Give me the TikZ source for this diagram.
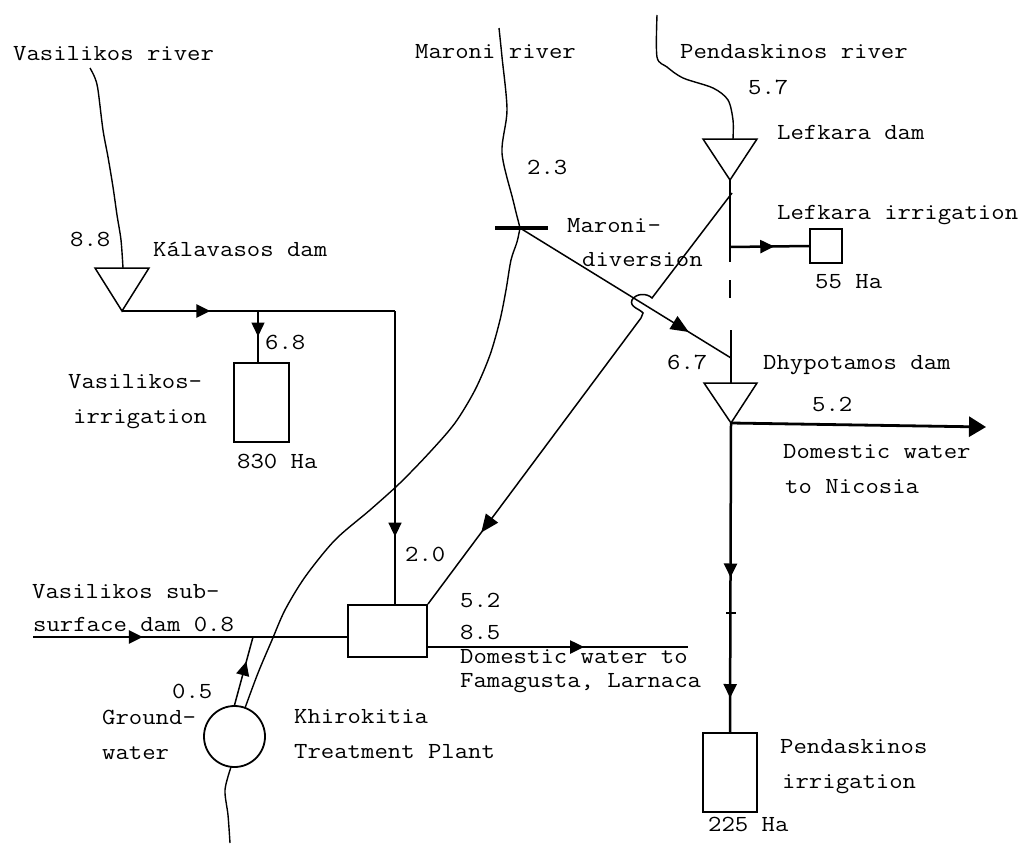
\documentclass[tikz,border=0pt]{standalone}
\usepackage{fontspec}
\usetikzlibrary{arrows.meta,decorations.markings}
\newcommand{\tw}[1]{\scalebox{1.13}[1]{#1}}
\begin{document}
\begin{tikzpicture}[x=1pt,y=-1pt,
  lbl/.style={anchor=base west,inner sep=0pt,font=\ttfamily\fontsize{23}{26}\selectfont},
  thinline/.style={line width=1.5pt},
  flowline/.style={line width=2.5pt},
  riverline/.style={line width=1.4pt},
  boxnode/.style={draw,line width=2pt,inner sep=0pt,fill=none},
  farrow/.style={postaction={decorate,decoration={markings,mark=at position #1 with {\arrow{Triangle[length=14pt,width=13pt]}}}}},
  farrowbig/.style={postaction={decorate,decoration={markings,mark=at position #1 with {\arrow{Triangle[length=18pt,width=15pt]}}}}},
]
\fill[white] (0,0) rectangle (1033,843);
\useasboundingbox (0,0) rectangle (1033,843);

% ---------- named points ----------
\coordinate (kapex) at (122,311);
\coordinate (kb) at (258,311);
\coordinate (kj) at (395,311);
\coordinate (ss) at (33,637);
\coordinate (g1) at (253,637);
\coordinate (fam) at (688,647);
\coordinate (mcross) at (520,228);
\coordinate (dj) at (731,358);
\coordinate (lapex) at (730,180);
\coordinate (lj) at (730,247);
\coordinate (pj) at (732,193);
\coordinate (h0) at (652,298);
\coordinate (h1) at (641,318);
\coordinate (dtop) at (731,383);
\coordinate (dapex) at (731,423);
\coordinate (nic) at (986,427);

% ---------- boxes ----------
\node[boxnode,minimum width=55pt,minimum height=79pt] (vbox) at (261.5,402.5) {};
\node[boxnode,minimum width=79pt,minimum height=52pt] (tbox) at (387.5,631) {};
\node[boxnode,minimum width=32pt,minimum height=34pt] (lbox) at (826,246) {};
\node[boxnode,minimum width=54pt,minimum height=79pt] (pbox) at (730,772.5) {};
\node[draw,circle,line width=1.8pt,minimum size=61pt,inner sep=0pt] (gw) at (234.5,736.5) {};

% ---------- dams ----------
\draw[thinline,line join=miter] (95,268) -- (149,268) -- (kapex) -- cycle;
\draw[thinline,line join=miter] (703,139) -- (757,139) -- (lapex) -- cycle;
\draw[thinline,line join=miter] (704,383) -- (757,383) -- (dapex) -- cycle;

% ---------- rivers ----------
\draw[riverline] plot[smooth,tension=0.5] coordinates {(90,68) (95,78) (98,90) (103,130) (108,157) (113,187) (117,215) (121,240) (123,268)};
\draw[riverline] plot[smooth,tension=0.5] coordinates {(499,28) (502,57) (507,110) (502,153) (513,200) (520,228)};
\draw[riverline] plot[smooth,tension=0.5] coordinates {(520,228) (517,242) (511,260) (506,290) (500,320) (490,355) (475,390) (455,423) (430,452) (400,483) (370,510) (335,540) (305,577) (285,610) (272,640) (258,673) (245,708)};
\draw[riverline] plot[smooth,tension=0.5] coordinates {(231,767) (225,790) (228,815) (230,843)};
\draw[riverline] plot[smooth,tension=0.5] coordinates {(657,15) (657,57) (667,67) (683,78) (713,88) (728,100) (733,120) (733,139)};

% ---------- Vasilikos system ----------
\draw[flowline,farrow=0.65] (kapex) -- (kb);
\draw[flowline] (kb) -- (kj);
\draw[thinline,farrow=0.5] (kb) -- (vbox.north -| kb);
\draw[thinline,farrow=0.77] (kj) -- (tbox.north -| kj);
\draw[flowline,farrow=0.35] (ss) -- (ss -| tbox.west);
\draw[thinline,farrow=0.64] (gw.north) -- (g1);
\draw[flowline,farrow=0.6] (tbox.east |- fam) -- (fam);

% ---------- Maroni diversion ----------
\draw[line width=3.5pt] (495,228) -- (548,228);
\draw[thinline,farrowbig=0.8] (mcross) -- (dj);

% ---------- Pendaskinos system ----------
\draw[thinline] (lapex) -- (730,262);
\draw[thinline] (730,280) -- (730,298);
\draw[thinline] (731,330) -- (dtop);
\draw[flowline,farrow=0.56] (lj) -- (lbox.west);
\draw[thinline] (pj) -- (h0) .. controls (647,293) and (636,293) .. (632,300) .. controls (629,307) and (640,309) .. (643,313) -- (h1);
\draw[thinline,farrowbig=0.75] (h1) -- (tbox.north east);
\draw[line width=2.8pt,-{Triangle[length=17pt,width=20pt]}] (dapex) -- (nic);
\draw[flowline,farrow=0.5,farrow=0.89] (dapex) -- (pbox.north);
\draw[thinline] (726,613) -- (736,613);

% ---------- labels ----------
\node[lbl] (t1) at (13,61) {\tw{Vasilikos river}};
\node[lbl] (t2) at (415,59) {\tw{Maroni river}};
\node[lbl] (t3) at (680,59) {\tw{Pendaskinos river}};
\node[lbl] (t4) at (748,94) {\tw{5.7}};
\node[lbl] (t5) at (777,139) {\tw{Lefkara dam}};
\node[lbl] (t6) at (527,174) {\tw{2.3}};
\node[lbl] (t7) at (777,219) {\tw{Lefkara irrigation}};
\node[lbl] (t8) at (70,246) {\tw{8.8}};
\node[lbl] (t9) at (153,256) {\tw{Kálavasos dam}};
\node[lbl] (t10) at (567,232) {\tw{Maroni-}};
\node[lbl] (t11) at (582,266) {\tw{diversion}};
\node[lbl] (t12) at (815,288) {\tw{55 Ha}};
\node[lbl] (t13) at (265,349) {\tw{6.8}};
\node[lbl] (t14) at (667,369) {\tw{6.7}};
\node[lbl] (t15) at (763,369) {\tw{Dhypotamos dam}};
\node[lbl] (t16) at (68,388) {\tw{Vasilikos-}};
\node[lbl] (t17) at (812,411) {\tw{5.2}};
\node[lbl] (t18) at (73,423) {\tw{irrigation}};
\node[lbl] (t19) at (783,458) {\tw{Domestic water}};
\node[lbl] (t20) at (237,468) {\tw{830 Ha}};
\node[lbl] (t21) at (785,493) {\tw{to Nicosia}};
\node[lbl] (t22) at (405,561) {\tw{2.0}};
\node[lbl] (t23) at (32,598) {\tw{Vasilikos sub-}};
\node[lbl] (t24) at (460,607) {\tw{5.2}};
\node[lbl] (t25) at (33,631) {\tw{surface dam 0.8}};
\node[lbl] (t26) at (460,639) {\tw{8.5}};
\node[lbl] (t27) at (460,663) {\tw{Domestic water to}};
\node[lbl] (t28) at (460,687) {\tw{Famagusta, Larnaca}};
\node[lbl] (t29) at (172,698) {\tw{0.5}};
\node[lbl] (t30) at (102,724) {\tw{Ground-}};
\node[lbl] (t31) at (294,723) {\tw{Khirokitia}};
\node[lbl] (t32) at (780,753) {\tw{Pendaskinos}};
\node[lbl] (t33) at (102,759) {\tw{water}};
\node[lbl] (t34) at (294,758) {\tw{Treatment Plant}};
\node[lbl] (t35) at (782,788) {\tw{irrigation}};
\node[lbl] (t36) at (708,831) {\tw{225 Ha}};
\end{tikzpicture}
\end{document}
